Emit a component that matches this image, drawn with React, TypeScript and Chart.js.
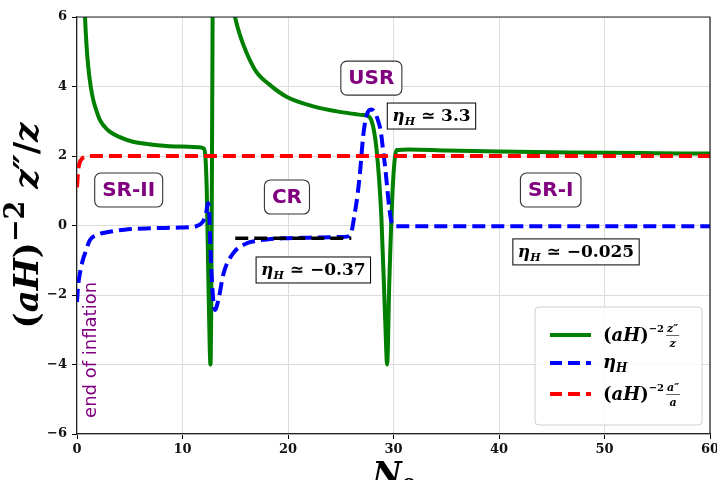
import React, { useEffect, useRef } from "react";
import { Chart, registerables } from "chart.js";

Chart.register(...registerables);

// ---------- data ----------
const N_Z = [
  0.6, 0.76, 0.9, 1.07, 1.3, 1.55, 1.85, 2.18, 2.6, 3.1, 4.0, 5.3, 6.8, 8.5, 10, 11.6, 12.0, 12.15, 12.3, 12.45,
  12.58, 12.65, 12.72, 12.78, 12.84, 12.9,
  14.7, 15.0, 15.4, 16.1, 17.0, 18.3, 19.9, 22.4, 24.9, 26.5, 27.1, 27.4, 27.9, 28.4, 28.85, 29.2, 29.4, 29.6,
  29.95, 30.3, 31.5, 35, 40, 45, 50, 55, 60,
];
const Z_VALS = [
  7.5, 6.0, 5.2, 4.56, 4.0, 3.6, 3.3, 3.03, 2.85, 2.7, 2.55, 2.41, 2.34, 2.29, 2.27, 2.25, 2.22, 2.05, 1.0, -1.5,
  -3.5, -4.0, -2.5, 1.0, 5.0, 9.0,
  6.45, 5.97, 5.52, 4.95, 4.42, 4.04, 3.7, 3.43, 3.27, 3.2, 3.18, 3.17, 3.03, 2.17, 0.25, -2.6, -4.0, -1.65,
  1.22, 2.17, 2.19, 2.16, 2.13, 2.11, 2.09, 2.08, 2.07,
];

const N_ETA = [
  0.0, 0.1, 0.28, 0.5, 0.76, 1.23, 2.0, 3.1, 4.5, 6.9, 9.75, 11.3, 11.9, 12.2, 12.43, 12.52, 12.6, 12.8, 13.07,
  13.4, 13.9, 14.8, 16.1, 17.0, 18.0, 19.5, 22.0, 25.0, 25.6, 26.0, 26.3, 26.6, 26.85, 27.1, 27.35, 27.6, 27.9,
  28.2, 28.5, 28.8, 29.0, 29.2, 29.4, 29.6, 29.8, 30.0, 30.4, 31.0, 40, 50, 60,
];
const ETA_VALS = [
  -2.2, -1.75, -1.37, -1.05, -0.8, -0.42, -0.26, -0.18, -0.12, -0.08, -0.06, -0.02, 0.1, 0.3, 0.64, 0.5, -0.22,
  -1.66, -2.43, -2.14, -1.37, -0.8, -0.51, -0.44, -0.4, -0.37, -0.35, -0.33, -0.32, -0.2, 0.3, 0.9, 1.6, 2.5,
  3.05, 3.28, 3.34, 3.27, 3.05, 2.7, 2.2, 1.7, 1.1, 0.5, 0.12, 0.0, -0.02, -0.025, -0.025, -0.025, -0.025,
];

const N_A = [0.0, 0.1, 0.25, 0.5, 0.8, 1.5, 10, 20, 30, 40, 50, 60];
const A_VALS = [1.1, 1.55, 1.8, 1.93, 1.98, 2.0, 2.0, 2.0, 2.0, 2.0, 2.0, 2.0];

const N_CR = [15, 26];
const CR_VALS = [-0.37, -0.37];

const X_TICKS = [0, 10, 20, 30, 40, 50, 60];
const Y_TICKS = [-6, -4, -2, 0, 2, 4, 6];

// region labels
const REGION_TEXT = ["SR-II", "CR", "USR", "SR-I"];
const REGION_N = [4.9, 19.9, 27.9, 44.9];
const REGION_Y = [1.02, 0.82, 4.24, 1.02];

// eta value boxes
const ETA_TEXT = ["3.3", "\u22120.37", "\u22120.025"];
const ETA_N = [33.6, 22.4, 47.3];
const ETA_Y = [3.15, -1.28, -0.76];

const GREEN = "#008000";
const BLUE = "#0000ff";
const RED = "#ff0000";
const PURPLE = "#800080";
const SERIF = '"DejaVu Serif"';
const SANS = '"DejaVu Sans"';

type Piece = { t: string; f: string; dy?: number };

function piecesWidth(ctx: CanvasRenderingContext2D, pieces: Piece[]) {
  let w = 0;
  for (const p of pieces) {
    ctx.font = p.f;
    w += ctx.measureText(p.t).width;
  }
  return w;
}
function drawPieces(ctx: CanvasRenderingContext2D, pieces: Piece[], x: number, y: number) {
  let cx = x;
  for (const p of pieces) {
    ctx.font = p.f;
    ctx.fillText(p.t, cx, y + (p.dy || 0));
    cx += ctx.measureText(p.t).width;
  }
  return cx;
}

function drawFrac(ctx: CanvasRenderingContext2D, num: string, den: string, x: number, y: number, font: string) {
  ctx.font = font;
  const wn = ctx.measureText(num).width;
  const wd = ctx.measureText(den).width;
  const w = Math.max(wn, wd) + 2;
  ctx.textAlign = "left";
  ctx.fillText(num, x + (w - wn) / 2, y - 7);
  ctx.fillText(den, x + (w - wd) / 2, y + 8);
  ctx.save();
  ctx.strokeStyle = "#000";
  ctx.lineWidth = 0.6;
  ctx.beginPath();
  ctx.moveTo(x, y - 3.5);
  ctx.lineTo(x + w, y - 3.5);
  ctx.stroke();
  ctx.restore();
  return x + w;
}

const overlayPlugin = {
  id: "overlay",
  afterDatasetsDraw(chart: any) {
    const ctx: CanvasRenderingContext2D = chart.ctx;
    const xs = chart.scales.x;
    const ys = chart.scales.y;
    const area = chart.chartArea;
    ctx.save();

    // frame (top + right spines)
    ctx.strokeStyle = "#222";
    ctx.lineWidth = 1.2;
    ctx.beginPath();
    ctx.moveTo(area.left, area.top);
    ctx.lineTo(area.right, area.top);
    ctx.lineTo(area.right, area.bottom);
    ctx.stroke();

    // region labels
    ctx.textBaseline = "middle";
    ctx.textAlign = "center";
    for (let i = 0; i < REGION_TEXT.length; i++) {
      const cx = xs.getPixelForValue(REGION_N[i]);
      const cy = ys.getPixelForValue(REGION_Y[i]);
      ctx.font = `bold 20px ${SANS}`;
      const w = ctx.measureText(REGION_TEXT[i]).width + 15;
      const h = 34;
      ctx.beginPath();
      ctx.roundRect(cx - w / 2, cy - h / 2, w, h, 6);
      ctx.fillStyle = "#fff";
      ctx.fill();
      ctx.strokeStyle = "#333";
      ctx.lineWidth = 1.1;
      ctx.stroke();
      ctx.fillStyle = PURPLE;
      ctx.fillText(REGION_TEXT[i], cx, cy + 1);
    }

    // eta boxes
    ctx.textAlign = "left";
    ctx.textBaseline = "alphabetic";
    for (let i = 0; i < ETA_TEXT.length; i++) {
      const pieces: Piece[] = [
        { t: "\u03b7", f: `italic bold 17px ${SERIF}` },
        { t: "H", f: `italic bold 11px ${SERIF}`, dy: 4 },
        { t: " \u2243 " + ETA_TEXT[i], f: `bold 17px ${SERIF}` },
      ];
      const cx = xs.getPixelForValue(ETA_N[i]);
      const cy = ys.getPixelForValue(ETA_Y[i]);
      const w = piecesWidth(ctx, pieces);
      const bw = w + 10;
      const bh = 26;
      ctx.fillStyle = "#fff";
      ctx.fillRect(cx - bw / 2, cy - bh / 2, bw, bh);
      ctx.strokeStyle = "#000";
      ctx.lineWidth = 1;
      ctx.strokeRect(cx - bw / 2, cy - bh / 2, bw, bh);
      ctx.fillStyle = "#000";
      drawPieces(ctx, pieces, cx - w / 2, cy + 5);
    }

    // end of inflation
    {
      const cx = xs.getPixelForValue(1.35);
      const cy = ys.getPixelForValue(-3.58);
      ctx.save();
      ctx.translate(cx, cy);
      ctx.rotate(-Math.PI / 2);
      ctx.font = `18px ${SANS}`;
      ctx.fillStyle = PURPLE;
      ctx.textAlign = "center";
      ctx.textBaseline = "middle";
      ctx.fillText("end of inflation", 0, 0);
      ctx.restore();
    }

    // legend
    {
      const bw = 167;
      const bh = 118;
      const lx = area.right - 8 - bw;
      const ly = area.bottom - 9 - bh;
      ctx.beginPath();
      ctx.roundRect(lx, ly, bw, bh, 4);
      ctx.fillStyle = "rgba(255,255,255,0.85)";
      ctx.fill();
      ctx.strokeStyle = "#d0d0d0";
      ctx.lineWidth = 1;
      ctx.stroke();
      const rows = [ly + 28, ly + 56, ly + 87];
      const colors = [GREEN, BLUE, RED];
      const dashes = [[], [12, 6], [12, 6]];
      for (let r = 0; r < 3; r++) {
        ctx.save();
        ctx.strokeStyle = colors[r];
        ctx.lineWidth = 4;
        ctx.setLineDash(dashes[r]);
        ctx.beginPath();
        ctx.moveTo(lx + 15, rows[r]);
        ctx.lineTo(lx + 56, rows[r]);
        ctx.stroke();
        ctx.restore();
      }
      ctx.fillStyle = "#000";
      ctx.textAlign = "left";
      ctx.textBaseline = "alphabetic";
      const tx = lx + 68;
      const base: Piece[] = [
        { t: "(", f: `bold 18px ${SERIF}` },
        { t: "aH", f: `italic bold 18px ${SERIF}` },
        { t: ")", f: `bold 18px ${SERIF}` },
        { t: "\u22122", f: `bold 10px ${SERIF}`, dy: -9 },
      ];
      let ex = drawPieces(ctx, base, tx, rows[0] + 6);
      drawFrac(ctx, "z\u2033", "z", ex + 2, rows[0] + 4, `italic bold 11px ${SERIF}`);
      drawPieces(
        ctx,
        [
          { t: "\u03b7", f: `italic bold 18px ${SERIF}` },
          { t: "H", f: `italic bold 12px ${SERIF}`, dy: 4 },
        ],
        tx,
        rows[1] + 5
      );
      ex = drawPieces(ctx, base, tx, rows[2] + 6);
      drawFrac(ctx, "a\u2033", "a", ex + 2, rows[2] + 4, `italic bold 11px ${SERIF}`);
    }

    // y title
    {
      const yp: Piece[] = [
        { t: "(", f: `bold 34px ${SERIF}` },
        { t: "aH", f: `italic bold 34px ${SERIF}` },
        { t: ")", f: `bold 34px ${SERIF}` },
        { t: "\u22122", f: `bold 27px ${SERIF}`, dy: -14 },
        { t: " z\u2033", f: `italic bold 34px ${SERIF}` },
        { t: "/", f: `bold 34px ${SERIF}` },
        { t: "z", f: `italic bold 34px ${SERIF}` },
      ];
      const w = piecesWidth(ctx, yp);
      ctx.save();
      ctx.translate(38, (area.top + area.bottom) / 2);
      ctx.rotate(-Math.PI / 2);
      ctx.fillStyle = "#000";
      drawPieces(ctx, yp, -w / 2, 0);
      ctx.restore();
    }

    // x title
    {
      const xp: Piece[] = [
        { t: "N", f: `italic bold 32px ${SERIF}` },
        { t: "e", f: `italic bold 20px ${SERIF}`, dy: 5 },
      ];
      const w = piecesWidth(ctx, xp);
      ctx.fillStyle = "#000";
      drawPieces(ctx, xp, (area.left + area.right) / 2 - w / 2, 484);
    }

    ctx.restore();
  },
};

function fmt(v: number) {
  return v < 0 ? "\u2212" + Math.abs(v) : String(v);
}

export default function App() {
  const ref = useRef<HTMLCanvasElement>(null);
  useEffect(() => {
    const canvas = ref.current;
    if (!canvas) return;
    const mk = (xs: number[], ys: number[]) => xs.map((x, i) => ({ x, y: ys[i] }));
    const chart = new Chart(canvas, {
      type: "line",
      data: {
        datasets: [
          { data: mk(N_Z, Z_VALS), borderColor: GREEN, borderWidth: 4, order: 4, cubicInterpolationMode: "monotone" },
          { data: mk(N_ETA, ETA_VALS), borderColor: BLUE, borderWidth: 4, borderDash: [13, 6], order: 3, cubicInterpolationMode: "monotone" },
          { data: mk(N_A, A_VALS), borderColor: RED, borderWidth: 4, borderDash: [13, 6], order: 2, cubicInterpolationMode: "monotone" },
          { data: mk(N_CR, CR_VALS), borderColor: "#000", borderWidth: 3.5, borderDash: [13, 6], order: 1 },
        ] as any,
      },
      options: {
        animation: false,
        responsive: false,
        devicePixelRatio: 1,
        events: [],
        elements: { point: { radius: 0 }, line: { fill: false } },
        datasets: { line: { clip: 0 } as any },
        layout: { padding: { top: 17, right: 7, left: 0, bottom: 0 } },
        plugins: { legend: { display: false }, tooltip: { enabled: false } },
        scales: {
          x: {
            type: "linear",
            min: 0,
            max: 60,
            afterFit: (s: any) => {
              s.height = 46;
              s.paddingLeft = 0;
              s.paddingRight = 0;
            },
            afterBuildTicks: (s: any) => {
              s.ticks = X_TICKS.map((v) => ({ value: v }));
            },
            ticks: {
              callback: (v: any) => fmt(Number(v)),
              font: { family: "DejaVu Serif", weight: "bold", size: 13 },
              color: "#111",
              padding: 3,
              maxRotation: 0,
            },
            grid: { color: "#dcdcdc", lineWidth: 1, tickLength: 5, tickColor: "#000" },
            border: { color: "#222", width: 1.2 },
          },
          y: {
            type: "linear",
            min: -6,
            max: 6,
            afterFit: (s: any) => {
              s.width = 77;
              s.paddingTop = 0;
              s.paddingBottom = 0;
            },
            afterBuildTicks: (s: any) => {
              s.ticks = Y_TICKS.map((v) => ({ value: v }));
            },
            ticks: {
              callback: (v: any) => fmt(Number(v)),
              font: { family: "DejaVu Serif", weight: "bold", size: 13 },
              color: "#111",
              padding: 5,
            },
            grid: { color: "#dcdcdc", lineWidth: 1, tickLength: 5, tickColor: "#000" },
            border: { color: "#222", width: 1.2 },
          },
        },
      } as any,
      plugins: [overlayPlugin],
    });
    return () => chart.destroy();
  }, []);
  return (
    <div style={{ position: "absolute", left: 0, top: 0, width: 717, height: 480, background: "#fff", overflow: "hidden" }}>
      <canvas ref={ref} width={717} height={480} style={{ display: "block", width: 717, height: 480 }} />
    </div>
  );
}
